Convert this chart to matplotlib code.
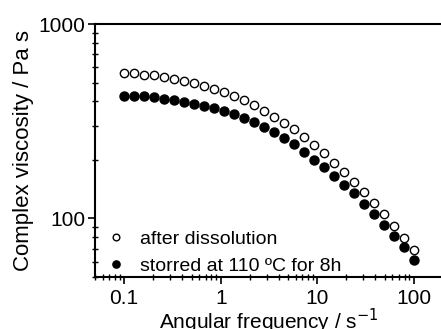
import matplotlib
matplotlib.use("Agg")
import matplotlib.pyplot as plt
from matplotlib.ticker import FixedLocator, FixedFormatter, LogLocator, NullFormatter

plt.rcParams['font.family'] = ['Liberation Sans', 'DejaVu Sans']

# angular frequency (rad/s)
freq = [0.1, 0.127, 0.161, 0.204, 0.259, 0.329, 0.418, 0.530, 0.672, 0.853,
        1.08, 1.37, 1.74, 2.21, 2.80, 3.56, 4.52, 5.74, 7.28, 9.24,
        11.7, 14.9, 18.9, 24.0, 30.4, 38.6, 49.0, 62.1, 78.8, 100]

# complex viscosity (Pa s)
after_dissolution = [557, 560, 548, 548, 534, 519, 511, 499, 481, 465,
                     446, 426, 406, 381, 358, 333, 310, 287, 262, 239,
                     216, 193, 174, 154, 136, 120, 105, 91.4, 79.6, 68.7]
stored_110C = [427, 427, 425, 420, 413, 406, 398, 389, 377, 368,
               358, 343, 329, 312, 295, 277, 260, 241, 220, 201,
               184, 165, 149, 135, 119, 106, 92.7, 81.4, 71.2, 61.5]

fig = plt.figure(figsize=(4.41, 3.29), dpi=100)
ax = fig.add_axes([95 / 441, 52 / 329, 348 / 441, 253 / 329])

ax.plot(freq, after_dissolution, 'o', mfc='white', mec='black', mew=1.0, ms=6,
        label='after dissolution')
ax.plot(freq, stored_110C, 'o', mfc='black', mec='black', ms=6.5,
        label='storred at 110 ºC for 8h')

ax.set_xscale('log')
ax.set_yscale('log')
ax.set_xlim(0.05, 200)
ax.set_ylim(50, 1000)

ax.xaxis.set_major_locator(FixedLocator([0.1, 1, 10, 100]))
ax.xaxis.set_major_formatter(FixedFormatter(['0.1', '1', '10', '100']))
ax.xaxis.set_minor_locator(LogLocator(base=10, subs=range(2, 10)))
ax.xaxis.set_minor_formatter(NullFormatter())
ax.yaxis.set_major_locator(FixedLocator([100, 1000]))
ax.yaxis.set_major_formatter(FixedFormatter(['100', '1000']))
ax.yaxis.set_minor_locator(LogLocator(base=10, subs=range(2, 10)))
ax.yaxis.set_minor_formatter(NullFormatter())

ax.tick_params(which='major', direction='out', length=5, width=1.2, labelsize=15)
ax.tick_params(which='minor', direction='inout', length=4, width=1.0)
ax.tick_params(axis='x', which='major', pad=4)
ax.tick_params(axis='y', which='major', pad=2)
for s in ax.spines.values():
    s.set_linewidth(1.5)

ax.set_xlabel('Angular frequency / s$^{-1}$', fontsize=15, labelpad=-1)
ax.set_ylabel('Complex viscosity / Pa s', fontsize=16, labelpad=3)

ax.legend(loc='lower left', frameon=False, fontsize=14, handletextpad=0.6,
          borderaxespad=0.1, labelspacing=0.5, handlelength=1.2,
          markerscale=0.8, bbox_to_anchor=(0.0, -0.03))

fig.savefig('out.png', dpi=100)
